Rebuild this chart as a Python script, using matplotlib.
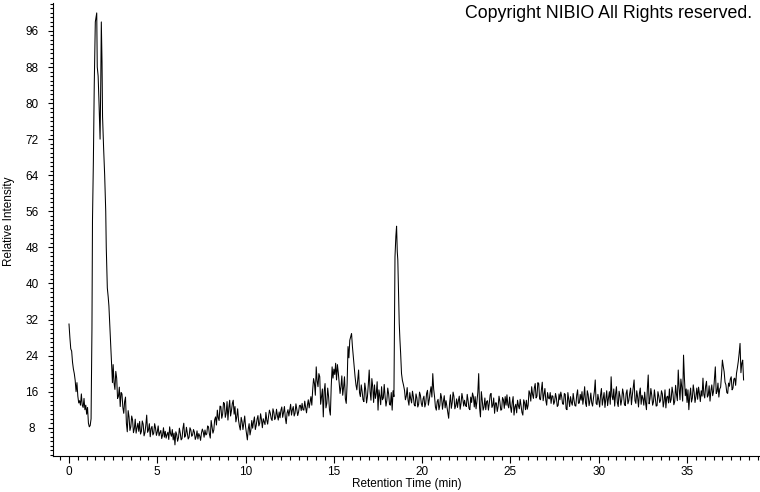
import numpy as np
import matplotlib
matplotlib.use("Agg")
import matplotlib.pyplot as plt
from matplotlib.ticker import MultipleLocator

plt.rcParams['font.family'] = ['Liberation Sans', 'DejaVu Sans']

# ---------------- data ----------------
# early part incl. solvent peak (explicit times, min)
t_early = [0.0, 0.05, 0.1, 0.15, 0.2, 0.25, 0.3, 0.35, 0.4, 0.45, 0.5, 0.55, 0.6,
           0.65, 0.7, 0.75, 0.8, 0.85, 0.9, 0.95, 1.0, 1.05, 1.1, 1.15, 1.2, 1.25,
           1.3, 1.33, 1.36, 1.38, 1.43, 1.49, 1.53, 1.57, 1.6, 1.65, 1.7, 1.76,
           1.8, 1.83, 1.87, 1.9, 1.96, 2.02, 2.08, 2.11, 2.13, 2.15, 2.17, 2.22,
           2.26, 2.32, 2.38, 2.42, 2.46]
i_early = [31, 28, 25.5, 25, 22.5, 21, 20, 18.5, 16, 18, 15, 13.5, 14,
           13, 15.5, 13, 12.5, 14.5, 12, 13, 11, 12.5, 9, 8.2, 8.5, 10,
           30, 54, 62, 67, 84, 98, 99, 100, 88, 86, 80, 72,
           85, 98, 89, 77, 70, 64, 56, 48, 45, 42, 39, 37,
           35, 30, 25, 21.5, 18]

# baseline 2.5 .. 18.4 min, 0.1 min steps
t_mid_start, t_mid_step = 2.5, 0.1
i_mid = [
    22, 16.5, 19, 15, 12.7,
    15.5, 11.2, 14.8, 7.1, 10.4, 8.2, 9.7, 7.8, 6.8, 9.0,
    9.4, 7.2, 8.8, 6.9, 10.8, 7.5, 6.0, 8.3, 6.8, 7.9,
    7.1, 6.2, 7.4, 6.4, 5.9, 5.7, 7.0, 8.2, 6.1, 5.3,
    4.2, 6.5, 5.8, 6.8, 5.6, 9.0, 6.3, 6.8, 5.9, 7.5,
    6.4, 7.0, 6.0, 5.5, 6.2, 6.8, 7.1, 7.5, 6.6, 8.2,
    5.7, 8.2, 7.5, 10.4, 11.9, 9.6, 12.7, 11.0, 13.4, 11.2,
    9.7, 14.1, 11.8, 14.1, 12.7, 10.4, 9.7, 7.5, 9.4, 9.0,
    8.2, 5.3, 8.9, 7.5, 7.9, 10.4, 8.5, 10.7, 9.0, 9.8,
    10.0, 8.7, 9.7, 10.5, 11.2, 9.6, 11.4, 10.2, 10.7, 11.5,
    11.9, 10.3, 12.7, 8.9, 12.0, 11.9, 10.8, 12.7, 11.2, 12.1,
    11.5, 13.0, 13.4, 11.9, 12.5, 13.0, 12.4, 14.9, 16.5, 17.8,
    21.5, 17.1, 19.3, 14.9, 10.4, 17.8, 13.4, 14.9, 10.8, 21.5,
    21.0, 22.3, 22.0, 17.8, 17.1, 15.2, 19.3, 13.4, 26.0, 27.4,
    28.9, 23.7, 19.3, 16.4, 20.8, 14.9, 16.0, 13.8, 16.4, 14.9,
    20.8, 14.1, 17.1, 17.5, 15.6, 11.9, 15.0, 17.1, 14.6, 14.9,
    14.1, 15.5, 13.0, 11.9, 14.9,
]
# readings half-way between the above (2.55 .. 18.35 min)
i_mid_half = [
    18.0, 20.5, 14.5, 17.0, 15.8,
    12.5, 13.8, 9.0, 11.8, 7.4, 10.6, 6.9, 9.9, 8.0, 7.2,
    6.6, 9.5, 6.2, 8.6, 7.0, 8.9, 7.8, 6.4, 8.9, 6.3,
    8.4, 6.9, 5.6, 8.0, 7.2, 6.5, 5.4, 6.7, 7.6, 6.8,
    7.1, 5.0, 7.9, 5.3, 7.8, 5.9, 8.1, 5.5, 8.0, 6.1,
    7.6, 5.4, 7.3, 6.7, 5.2, 7.7, 5.9, 6.4, 8.4, 6.6,
    9.6, 6.8, 9.8, 8.6, 10.2, 12.8, 10.1, 13.6, 10.3, 13.8,
    12.4, 10.6, 13.4, 11.0, 9.3, 12.2, 8.4, 10.3, 7.6, 10.6,
    6.7, 7.7, 6.4, 9.6, 9.3, 7.6, 9.9, 8.4, 11.1, 8.0,
    9.3, 11.4, 8.8, 11.9, 10.0, 12.2, 9.8, 12.1, 9.7, 10.2,
    12.6, 11.4, 10.2, 11.3, 10.6, 13.2, 12.0, 10.6, 13.3, 10.7,
    12.9, 11.8, 12.0, 13.9, 11.3, 14.2, 13.6, 13.0, 18.9, 15.2,
    18.4, 20.0, 13.2, 16.6, 16.1, 12.4, 16.8, 12.0, 17.2, 19.0,
    19.8, 18.6, 20.2, 15.6, 19.5, 17.0, 14.4, 17.8, 23.5, 28.2,
    26.0, 21.4, 17.5, 18.6, 15.8, 17.5, 14.2, 17.9, 13.5, 17.6,
    16.0, 18.9, 13.6, 14.5, 18.2, 16.4, 13.1, 14.2, 17.6, 12.8,
    16.8, 13.2, 15.8, 16.2,
]

# second peak (explicit times, min)
t_peak2 = [18.46, 18.51, 18.55, 18.59, 18.62, 18.66, 18.7, 18.74, 18.78,
           18.83, 18.88, 18.94]
i_peak2 = [45.9, 50.5, 52.7, 47, 45.2, 38.5, 31.2, 27.5, 24.5, 20.0, 18.5, 17.5]

# baseline 19.0 .. 38.2 min, 0.1 min steps
t_late_start, t_late_step = 19.0, 0.1
i_late = [
    16.3, 15.0, 14.1, 15.8, 13.5, 14.9, 12.8, 14.6, 13.2, 15.2,
    12.7, 15.0, 13.4, 16.3, 14.2, 17.1, 20.0, 14.9, 11.9, 14.3,
    13.0, 14.6, 13.8, 12.4, 12.7, 10.1, 15.3, 13.6, 14.9, 12.9,
    12.5, 15.0, 13.4, 14.4, 14.1, 12.7, 14.0, 12.0, 13.6, 14.9,
    14.9, 13.8, 20.0, 10.4, 14.1, 12.6, 12.0, 14.0, 13.4, 15.6,
    13.0, 11.2, 13.5, 12.7, 13.8, 12.0, 14.2, 14.9, 15.3, 12.4,
    12.7, 13.6, 10.8, 13.2, 14.1, 12.2, 12.9, 10.8, 13.5, 14.1,
    13.0, 15.6, 17.1, 14.5, 17.8, 15.0, 17.8, 14.2, 18.1, 15.3,
    14.1, 15.8, 14.4, 13.4, 15.0, 13.8, 14.6, 13.0, 14.2, 14.9,
    13.2, 15.4, 12.0, 14.3, 14.9, 13.0, 14.1, 12.8, 16.4, 13.5,
    14.1, 13.2, 17.1, 12.7, 15.3, 14.0, 13.5, 14.6, 18.6, 13.1,
    14.1, 15.2, 13.0, 15.8, 14.4, 12.9, 16.0, 19.3, 14.2, 12.8,
    17.1, 12.7, 15.0, 14.2, 15.5, 12.9, 16.4, 14.0, 16.8, 15.2,
    18.6, 13.4, 14.8, 15.6, 13.2, 14.5, 15.9, 12.0, 19.7, 14.4,
    15.2, 13.8, 14.6, 12.9, 15.0, 14.1, 15.5, 13.9, 12.4, 15.0,
    16.6, 14.3, 15.7, 13.8, 15.4, 20.8, 14.2, 17.0, 24.1, 15.1,
    13.6, 12.0, 16.8, 14.6, 15.9, 14.9, 14.3, 15.6, 16.2, 19.0,
    14.6, 18.3, 15.2, 13.9, 17.5, 16.1, 21.5, 16.0, 14.8, 17.0,
    23.0, 20.4, 17.5, 15.6, 17.2, 19.3, 16.8, 19.0, 20.1, 22.7,
    26.7, 22.3, 18.6,
]
# readings half-way between the above (19.05 .. 38.15 min)
i_late_half = [
    14.2, 16.9, 13.0, 14.4, 16.1, 13.1, 15.5, 12.6, 15.9, 13.4,
    14.4, 12.6, 15.6, 13.0, 15.8, 14.8, 16.6, 12.6, 13.8, 12.0,
    15.6, 12.1, 15.1, 14.0, 11.5, 13.4, 12.3, 15.9, 12.2, 14.4,
    14.0, 12.1, 15.6, 12.8, 13.0, 15.4, 12.3, 14.8, 15.7, 12.6,
    12.2, 15.8, 12.4, 16.0, 11.9, 14.6, 13.8, 11.9, 15.3, 12.5,
    14.6, 13.5, 11.6, 15.0, 11.9, 14.7, 12.3, 13.0, 13.1, 14.8,
    11.4, 14.9, 12.6, 11.3, 12.9, 14.3, 11.4, 14.2, 12.0, 12.1,
    16.2, 13.9, 15.4, 16.8, 14.6, 18.0, 14.4, 16.4, 14.0, 16.7,
    13.0, 14.6, 15.8, 15.1, 13.2, 15.6, 12.7, 15.5, 15.9, 13.3,
    15.6, 12.2, 15.8, 12.7, 13.6, 15.6, 12.9, 15.2, 13.4, 15.4,
    16.0, 14.8, 13.5, 16.2, 12.9, 15.7, 12.8, 16.0, 13.4, 15.4,
    12.6, 16.7, 14.4, 12.5, 16.2, 14.6, 13.2, 15.0, 16.6, 15.4,
    13.6, 16.1, 13.0, 16.6, 13.2, 15.6, 13.3, 15.6, 13.1, 16.8,
    14.0, 16.2, 12.6, 16.8, 15.2, 13.0, 13.6, 16.5, 13.3, 16.7,
    13.0, 16.4, 12.8, 16.0, 13.6, 16.2, 12.6, 16.4, 14.8, 13.5,
    13.6, 17.0, 13.1, 17.4, 14.0, 16.8, 18.8, 13.9, 19.0, 16.6,
    16.4, 15.0, 13.7, 17.5, 13.6, 16.8, 17.0, 13.8, 15.0, 15.4,
    17.2, 14.8, 17.3, 16.2, 15.1, 18.9, 15.6, 17.9, 16.6, 19.6,
    21.6, 18.1, 15.8, 17.9, 18.8, 16.4, 18.8, 17.4, 21.3, 24.5,
    20.2, 23.0,
]

x_major_ticks = [0, 5, 10, 15, 20, 25, 30, 35]
y_major_ticks = [8, 16, 24, 32, 40, 48, 56, 64, 72, 80, 88, 96]

# ---------------- assemble ----------------
t_mid = t_mid_start + t_mid_step * np.arange(len(i_mid))
t_mid_h = t_mid_start + t_mid_step / 2 + t_mid_step * np.arange(len(i_mid_half))
t_late = t_late_start + t_late_step * np.arange(len(i_late))
t_late_h = t_late_start + t_late_step / 2 + t_late_step * np.arange(len(i_late_half))
time = np.concatenate([t_early, t_mid, t_mid_h, t_peak2, t_late, t_late_h])
intensity = np.concatenate([i_early, i_mid, i_mid_half, i_peak2, i_late, i_late_half])
order = np.argsort(time, kind='stable')
time, intensity = time[order], intensity[order]

# ---------------- figure ----------------
fig = plt.figure(figsize=(7.6, 4.92), dpi=100)
ax = fig.add_axes([53 / 760, 36 / 492, 707 / 760, 453 / 492])

ax.plot(time, intensity, color='black', linewidth=0.75)

ax.set_xlim(-0.906, 39.13)
ax.set_ylim(1.73, 102.2)

for s in ('top', 'right'):
    ax.spines[s].set_visible(False)
for s in ('left', 'bottom'):
    ax.spines[s].set_linewidth(0.8)

ax.set_xticks(x_major_ticks)
ax.set_yticks(y_major_ticks)
ax.xaxis.set_minor_locator(MultipleLocator(0.5))
ax.yaxis.set_minor_locator(MultipleLocator(1))

ax.tick_params(axis='x', which='major', length=5, width=0.8, pad=2, labelsize=8.5)
ax.tick_params(axis='x', which='minor', length=3, width=0.8)
ax.tick_params(axis='y', which='major', length=3.6, width=0.8, pad=11.5, labelsize=8.5)
ax.tick_params(axis='y', which='minor', length=2, width=0.8)
for lbl in ax.get_yticklabels():
    lbl.set_horizontalalignment('center')

fig.text(9 / 760, 1 - 221 / 492, 'Relative Intensity', rotation=90,
         ha='center', va='center', fontsize=8.5)
fig.text(407 / 760, 1 - 484 / 492, 'Retention Time (min)',
         ha='center', va='center', fontsize=8.5)
fig.text(752 / 760, 1 - 14 / 492, 'Copyright NIBIO All Rights reserved.',
         ha='right', va='center', fontsize=12.8)

fig.savefig('out.png', dpi=100)
